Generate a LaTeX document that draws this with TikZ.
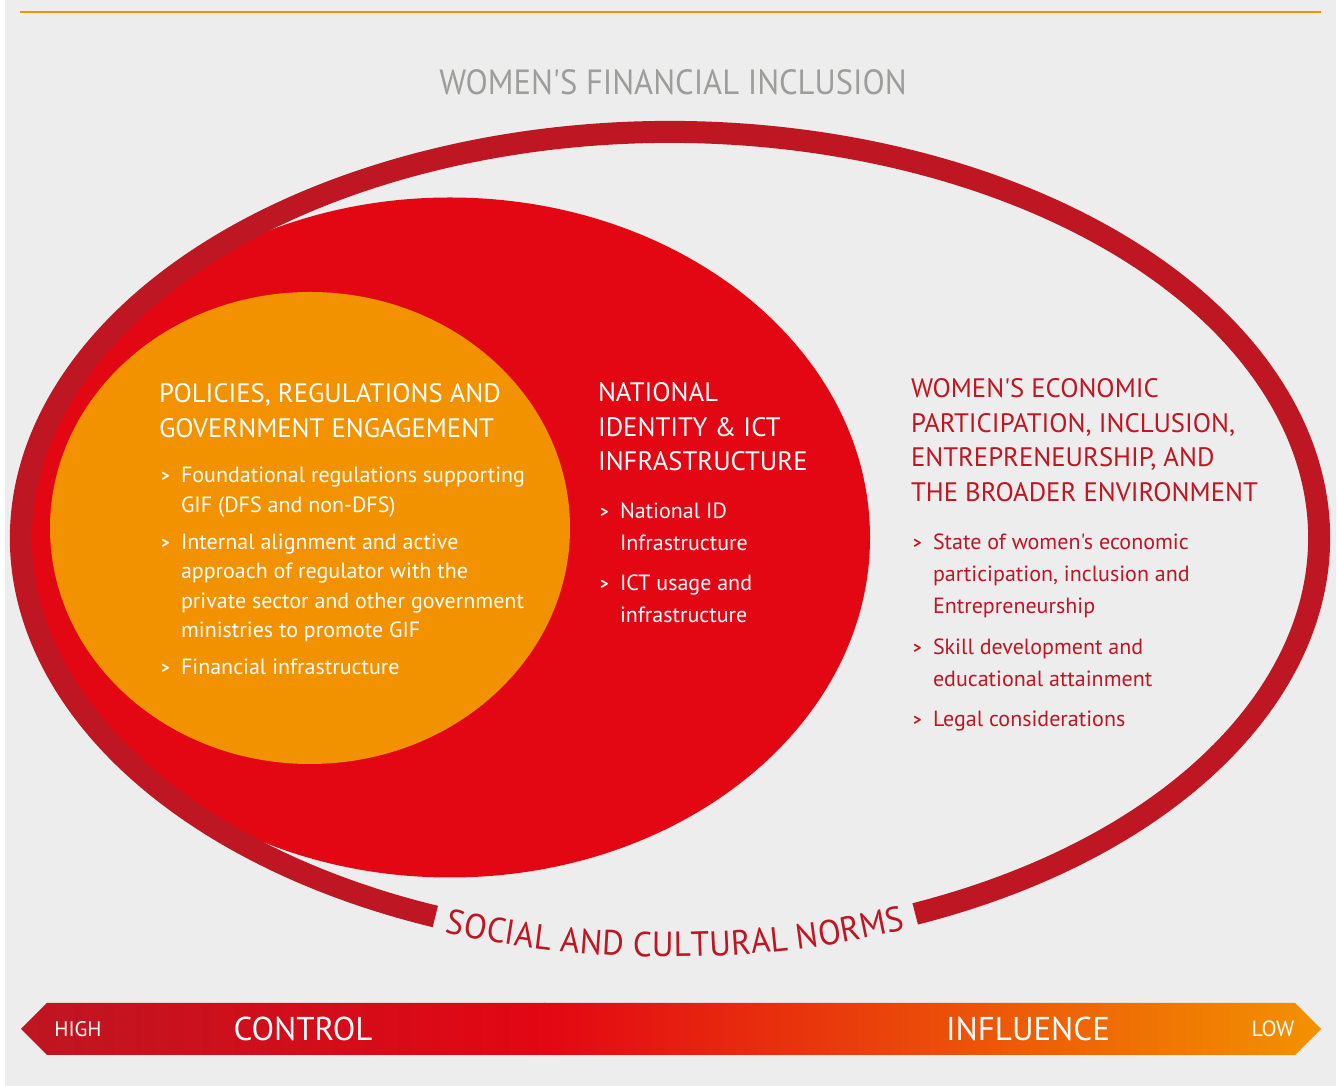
\documentclass[tikz,border=0pt]{standalone}
\usepackage{fontspec}
\setmainfont{PT Sans}
\newfontfamily\condfont{PT Sans}
\newfontfamily\titlefont[FakeStretch=0.93]{PT Sans}
\newfontfamily\normsfam[FakeStretch=0.95]{PT Sans}
\newfontfamily\bodyfont{PT Sans}
\usetikzlibrary{decorations.text}
\definecolor{bggray}{HTML}{EDEDED}
\definecolor{ringred}{HTML}{BE1622}
\definecolor{mainred}{HTML}{E30613}
\definecolor{mainorange}{HTML}{F39200}
\definecolor{titlegray}{HTML}{9D9D9C}
\newcommand{\mybullet}{\makebox[20pt][l]{\raisebox{1pt}{\bfseries\fontsize{16}{16}\selectfont >}}}
\newcommand{\normsfont}{\normsfam\fontsize{35}{35}\selectfont\color{ringred}}
\begin{document}
\begin{tikzpicture}[x=1pt,y=1pt,
  every node/.style={inner sep=0pt, outer sep=0pt},
  headtext/.style={font=\condfont\fontsize{26.7}{34.5}\selectfont, anchor=base west},
  orangelist/.style={font=\bodyfont\fontsize{22}{29.5}\selectfont, anchor=base west, text=white},
  condlist/.style={font=\condfont\fontsize{22}{32}\selectfont, anchor=base west},
  bandtext/.style={font=\condfont, text=white, anchor=base}]
\useasboundingbox (0,0) rectangle (1338,1086);
\fill[white] (0,0) rectangle (1338,1086);
\fill[bggray] (5,0) rectangle (1336,1086);
% top rule
\draw[mainorange, line width=2pt] (20,1074) -- (1321,1074);
% title
\node[font=\titlefont\fontsize{35}{35}\selectfont, text=titlegray, anchor=base] (title) at (673,991) {WOMEN'S FINANCIAL INCLUSION};
% ellipses
\fill[mainred] (450,548.5) ellipse[x radius=420, y radius=340];
\fill[mainorange] (310,558) ellipse[x radius=260, y radius=236];
\draw[ringred, line width=22pt] (670,548) ++(292.2:649 and 406)
  arc[start angle=292.2, end angle=608.8, x radius=649, y radius=406];
% curved label
\path[decorate, decoration={text along path, text={|\normsfont|SOCIAL AND CULTURAL NORMS}, text align=center, raise=-13pt}]
  (670,548) ++(249.5:649 and 406) arc[start angle=249.5, end angle=291.5, x radius=649, y radius=406];
% orange block
\node[headtext, text=white] (poltitle) at (159,683)
  {\begin{tabular}[t]{@{}l@{}}POLICIES, REGULATIONS AND\\GOVERNMENT ENGAGEMENT\end{tabular}};
\node[orangelist] (pollist) at (161,603)
  {\begin{tabular}[t]{@{}l@{}l@{}}
  \mybullet & Foundational regulations supporting\\
   & GIF (DFS and non-DFS)\\[7.5pt]
  \mybullet & Internal alignment and active\\
   & approach of regulator with the\\
   & private sector and other government\\
   & ministries to promote GIF\\[7.5pt]
  \mybullet & Financial infrastructure
  \end{tabular}};
% red block
\node[headtext, text=white] (natitle) at (598,684)
  {\begin{tabular}[t]{@{}l@{}}NATIONAL\\IDENTITY \& ICT\\INFRASTRUCTURE\end{tabular}};
\node[condlist, text=white] (nalist) at (600,567)
  {\begin{tabular}[t]{@{}l@{}l@{}}
  \mybullet & National ID\\
   & Infrastructure\\[8pt]
  \mybullet & ICT usage and\\
   & infrastructure
  \end{tabular}};
% outer block
\node[headtext, text=ringred] (wetitle) at (911,688)
  {\begin{tabular}[t]{@{}l@{}}WOMEN'S ECONOMIC\\PARTICIPATION, INCLUSION,\\ENTREPRENEURSHIP, AND\\THE BROADER ENVIRONMENT\end{tabular}};
\node[condlist, text=ringred] (welist) at (913,536)
  {\begin{tabular}[t]{@{}l@{}l@{}}
  \mybullet & State of women's economic\\
   & participation, inclusion and\\
   & Entrepreneurship\\[9pt]
  \mybullet & Skill development and\\
   & educational attainment\\[8pt]
  \mybullet & Legal considerations
  \end{tabular}};
% band
\begin{scope}
\clip (21,57) -- (47,83) -- (1295,83) -- (1321,57) -- (1295,31) -- (47,31) -- cycle;
\shade[left color=ringred, right color=mainred] (21,31) rectangle (545,83);
\shade[left color=mainred, right color=mainorange] (544,31) rectangle (1321,83);
\end{scope}
\node[bandtext, font=\condfont\fontsize{21}{21}\selectfont] (high) at (78,49) {HIGH};
\node[bandtext, font=\condfont\fontsize{33}{33}\selectfont] (control) at (303,45) {CONTROL};
\node[bandtext, font=\condfont\fontsize{33}{33}\selectfont] (influence) at (1028,45) {INFLUENCE};
\node[bandtext, font=\condfont\fontsize{22}{22}\selectfont] (low) at (1273,49) {LOW};
\end{tikzpicture}
\end{document}
